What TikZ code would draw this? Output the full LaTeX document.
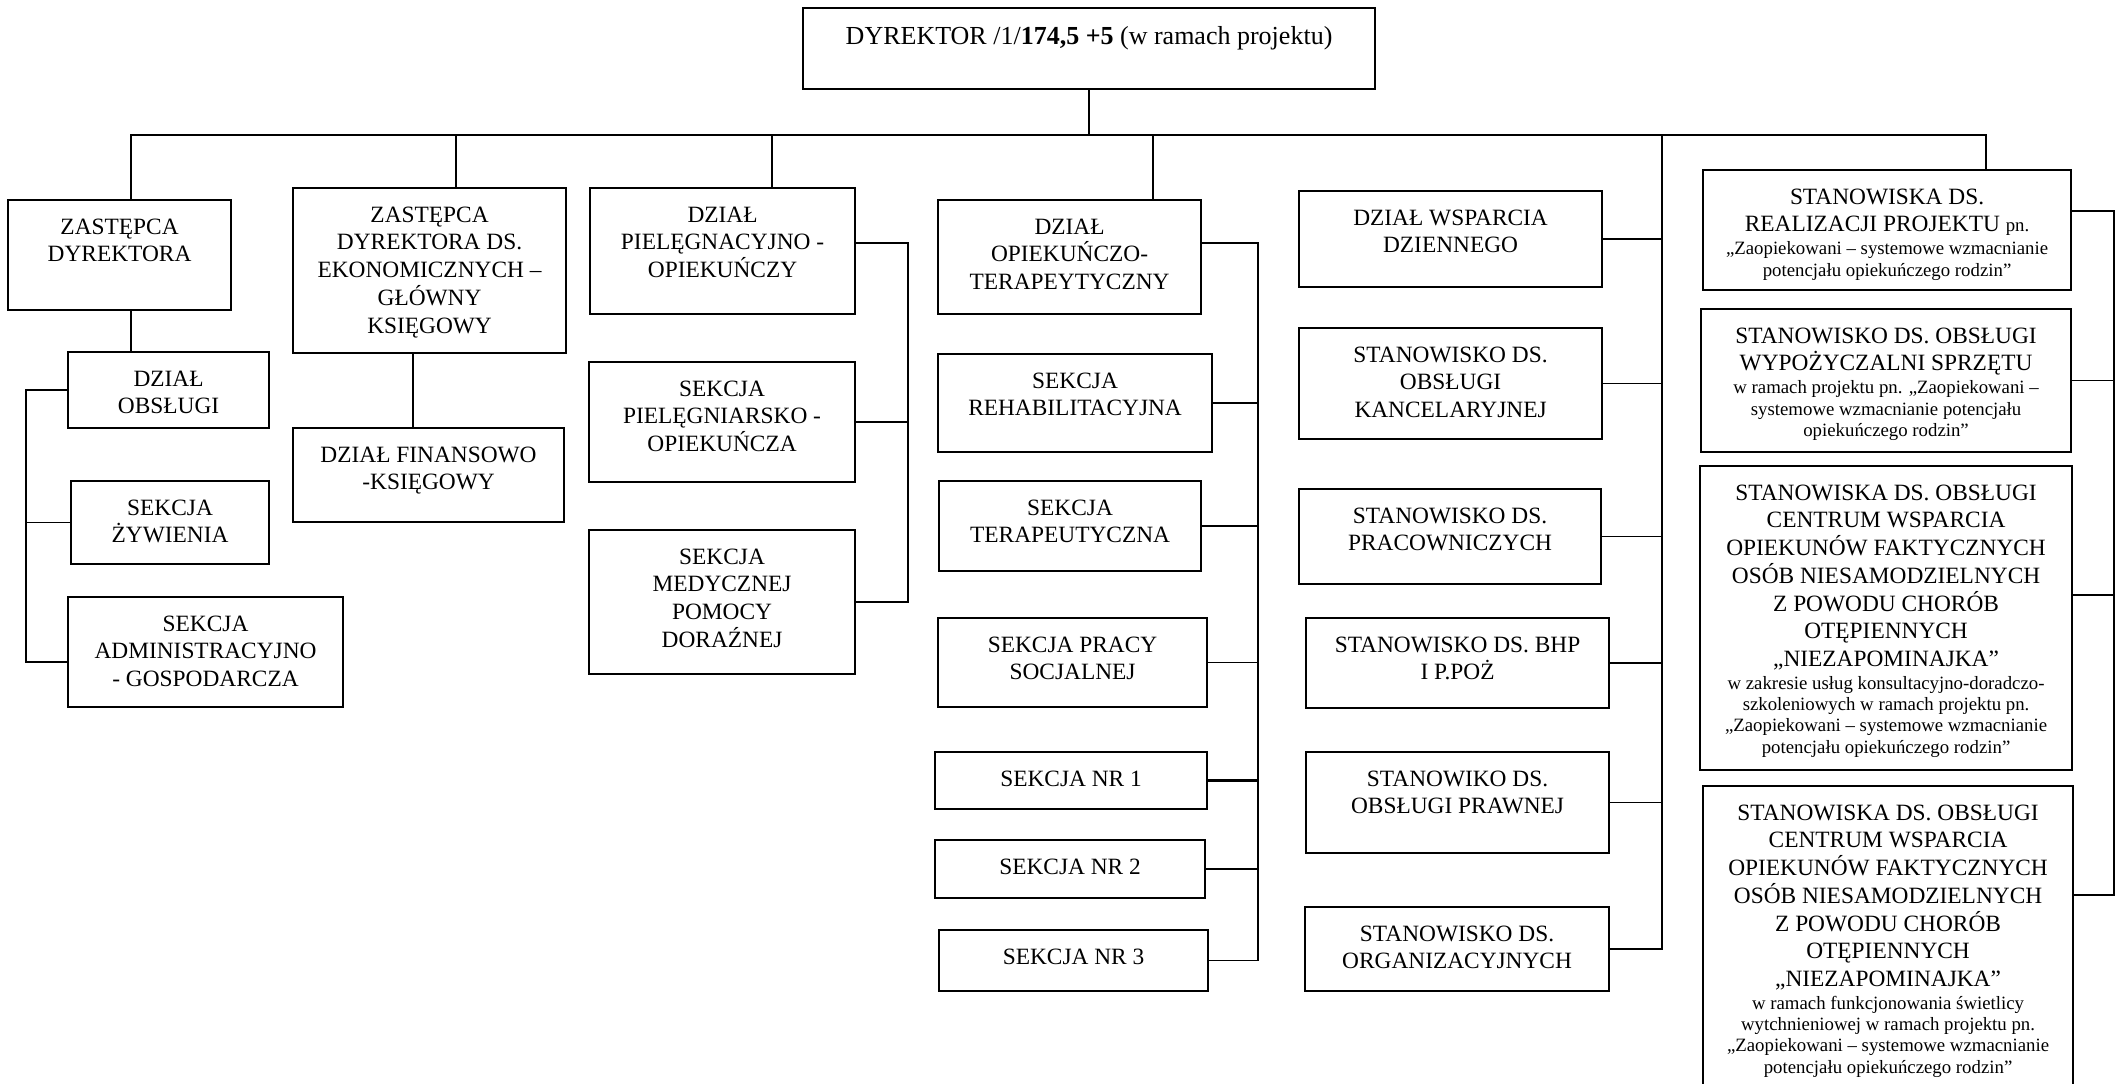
\documentclass[tikz,border=0pt]{standalone}
\usepackage{fontspec}
\setmainfont{Liberation Serif}

\newdimen\px \px=0.02cm
% box of given width/height (in px), text hung from the top
\newcommand\boxtext[4][34]{\parbox[c][#3\px][t]{#2\px}{\centering\rule{0pt}{#1\px}#4\par}}
\newcommand\notefont{\fontsize{10.7}{12.2}\selectfont}
\newcommand\cwhead{STANOWISKA DS. OBSŁUGI\\CENTRUM WSPARCIA\\OPIEKUNÓW FAKTYCZNYCH\\OSÓB NIESAMODZIELNYCH\\Z POWODU CHORÓB\\OTĘPIENNYCH\\„NIEZAPOMINAJKA”\par\vspace{0.6pt}}

\begin{document}
\begin{tikzpicture}[
  x=0.02cm, y=-0.02cm,
  box/.style={draw, line width=1.2pt, inner sep=0pt, anchor=north west, font=\fontsize{13.3}{15.8}\selectfont},
  link/.style={line width=0.8pt}
]
\useasboundingbox (0,0) rectangle (2118,1084);

\node[box, font=\fontsize{14.8}{17}\selectfont] (dyr) at (802,7) {\boxtext[36]{572}{81}{DYREKTOR /1/\textbf{174,5 +5} (w ramach projektu)}};

% first row
\node[box] (zd) at (7,199) {\boxtext{223}{110}{ZASTĘPCA\\DYREKTORA}};
\node[box] (zde) at (292,187) {\boxtext{273}{165}{ZASTĘPCA\\DYREKTORA DS.\\EKONOMICZNYCH –\\GŁÓWNY\\KSIĘGOWY}};
\node[box] (dpo) at (589,187) {\boxtext{265}{126}{DZIAŁ\\PIELĘGNACYJNO -\\OPIEKUŃCZY}};
\node[box] (dot) at (937,199) {\boxtext{263}{114}{DZIAŁ\\OPIEKUŃCZO-\\TERAPEYTYCZNY}};
\node[box] (dwd) at (1298,190) {\boxtext{303}{96}{DZIAŁ WSPARCIA\\DZIENNEGO}};
\node[box] (srp) at (1702,169) {\boxtext{368}{120}{STANOWISKA DS.\\REALIZACJI PROJEKTU {\notefont pn.}\par\vspace{0.8pt}\notefont „Zaopiekowani – systemowe wzmacnianie\\potencjału opiekuńczego rodzin”}};

% under the deputies
\node[box] (dob) at (67,351) {\boxtext{201}{76}{DZIAŁ\\OBSŁUGI}};
\node[box] (sz) at (70,480) {\boxtext{198}{83}{SEKCJA\\ŻYWIENIA}};
\node[box] (sag) at (67,596) {\boxtext{275}{110}{SEKCJA\\ADMINISTRACYJNO\\- GOSPODARCZA}};
\node[box] (dfk) at (292,427) {\boxtext{271}{94}{DZIAŁ FINANSOWO\\-KSIĘGOWY}};

% nursing department
\node[box] (spo) at (588,361) {\boxtext{266}{120}{SEKCJA\\PIELĘGNIARSKO -\\OPIEKUŃCZA}};
\node[box] (smp) at (588,529) {\boxtext{266}{144}{SEKCJA\\MEDYCZNEJ\\POMOCY\\DORAŹNEJ}};

% care and therapy department
\node[box] (sr) at (937,353) {\boxtext{274}{98}{SEKCJA\\REHABILITACYJNA}};
\node[box] (st) at (938,480) {\boxtext{262}{90}{SEKCJA\\TERAPEUTYCZNA}};
\node[box] (sps) at (937,617) {\boxtext{269}{89}{SEKCJA PRACY\\SOCJALNEJ}};
\node[box] (s1) at (934,751) {\boxtext{272}{57}{SEKCJA NR 1}};
\node[box] (s2) at (934,839) {\boxtext{270}{58}{SEKCJA NR 2}};
\node[box] (s3) at (938,929) {\boxtext{269}{61}{SEKCJA NR 3}};

% posts
\node[box] (sok) at (1298,327) {\boxtext{303}{111}{STANOWISKO DS.\\OBSŁUGI\\KANCELARYJNEJ}};
\node[box] (spr) at (1298,488) {\boxtext{302}{95}{STANOWISKO DS.\\PRACOWNICZYCH}};
\node[box] (bhp) at (1305,617) {\boxtext{303}{90}{STANOWISKO DS. BHP\\I P.POŻ}};
\node[box] (sop) at (1305,751) {\boxtext{303}{101}{STANOWIKO DS.\\OBSŁUGI PRAWNEJ}};
\node[box] (sorg) at (1304,906) {\boxtext{304}{84}{STANOWISKO DS.\\ORGANIZACYJNYCH}};

% project posts
\node[box] (sws) at (1700,308) {\boxtext{370}{143}{STANOWISKO DS. OBSŁUGI\\WYPOŻYCZALNI SPRZĘTU\par\vspace{0.8pt}\notefont w ramach projektu pn. „Zaopiekowani –\\systemowe wzmacnianie potencjału\\opiekuńczego rodzin”}};
\node[box] (cw1) at (1699,465) {\boxtext{372}{304}{\cwhead\notefont w zakresie usług konsultacyjno-doradczo-\\szkoleniowych w ramach projektu pn.\\„Zaopiekowani – systemowe wzmacnianie\\potencjału opiekuńczego rodzin”}};
\node[box] (cw2) at (1702,785) {\boxtext{370}{310}{\cwhead\notefont w ramach funkcjonowania świetlicy\\wytchnieniowej w ramach projektu pn.\\„Zaopiekowani – systemowe wzmacnianie\\potencjału opiekuńczego rodzin”}};

% bus and drops
\coordinate (bus) at (131,135);
\coordinate (dzde) at (456,135);
\coordinate (ddpo) at (772,135);
\coordinate (ddot) at (1153,135);
\coordinate (rsp) at (1662,135);
\coordinate (dsrp) at (1986,135);
\coordinate (dfin) at (413,352);

\draw[link] (dyr.south) -- (dyr.south |- bus);
\draw[link] (zd.north -| bus) -- (bus) -- (dsrp) -- (srp.north -| dsrp);
\foreach \xd/\nd in {dzde/zde, ddpo/dpo, ddot/dot}
  \draw[link] (\xd) -- (\xd |- \nd.north);
\draw[link] (zd.south -| bus) -- (dob.north -| bus);
\draw[link] (zde.south -| dfin) -- (dfk.north -| dfin);

% left group
\coordinate (lsp) at (26,662);
\draw[link] (dob.west) -| (lsp) -- (lsp -| sag.west);
\draw[link] (sz.west) -- (sz.west -| lsp);

% nursing group
\coordinate (psp) at (908,243);
\draw[link] (psp -| dpo.east) -- (psp) |- (smp.east);
\draw[link] (spo.east) -- (spo.east -| psp);

% care and therapy group
\coordinate (tsp) at (1258,243);
\draw[link] (tsp -| dot.east) -- (tsp) |- (s3.east);
\foreach \nd in {sr, st, sps, s2}
  \draw[link] (\nd.east) -- (\nd.east -| tsp);
\draw[link, line width=1.4pt] (s1.east) -- (s1.east -| tsp);

% posts group
\draw[link] (rsp) |- (sorg.east);
\foreach \nd in {dwd, sok, spr, bhp, sop}
  \draw[link] (\nd.east) -- (\nd.east -| rsp);

% project group
\coordinate (fsp) at (2114,211);
\coordinate (fspc) at (2114,595);
\coordinate (fspb) at (2114,895);
\draw[link] (fsp -| srp.east) -- (fsp) -- (fspb) -- (fspb -| cw2.east);
\draw[link] (fspc -| cw1.east) -- (fspc);
\draw[link] (sws.east) -- (sws.east -| fsp);
\end{tikzpicture}
\end{document}
